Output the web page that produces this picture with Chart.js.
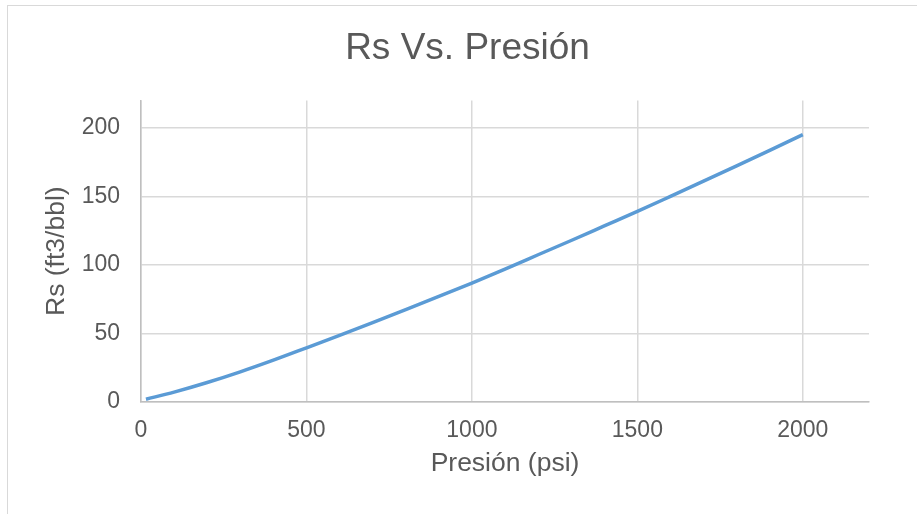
<!DOCTYPE html>
<html>
<head>
<meta charset="utf-8">
<title>Rs Vs. Presión</title>
<script src="https://cdn.jsdelivr.net/npm/chart.js@4"></script>
<style>
  html, body { margin: 0; padding: 0; background: #ffffff; overflow: hidden; width: 917px; height: 514px; }
  #frame {
    position: absolute; left: 7px; top: 5px; width: 1000px; height: 600px;
    border-left: 1px solid #d9d9d9; border-top: 1px solid #d9d9d9;
  }
  #wrap { position: absolute; left: 0; top: 0; width: 935px; height: 514px; }
</style>
</head>
<body>
<div id="frame"></div>
<div id="wrap"><canvas id="chart"></canvas></div>
<script>
// Solution gas-oil ratio vs. pressure
const pressure = [15, 100, 200, 300, 400, 500, 600, 700, 800, 900, 1000,
                  1100, 1200, 1300, 1400, 1500, 1600, 1700, 1800, 1900, 2000];
const rs = [2.0, 7.2, 14.2, 22.0, 30.5, 39.5, 48.6, 57.9, 67.4, 77.0, 86.8,
            97.0, 107.4, 117.8, 128.4, 139.0, 150.0, 161.1, 172.3, 183.6, 195.0];

// Axis tick values
const xTicks = [0, 500, 1000, 1500, 2000];
const yTicks = [0, 50, 100, 150, 200];

const chartTitle = 'Rs Vs. Presión';
const xTitle = 'Presión (psi)';
const yTitle = 'Rs (ft3/bbl)';

const points = pressure.map((p, i) => ({ x: p, y: rs[i] }));

const FONT = '"Liberation Sans", Arial, Helvetica, sans-serif';
const TEXT = '#595959';
const GRID = '#d9d9d9';
const AXIS = '#bfbfbf';

const fixedTicks = list => scale => { scale.ticks = list.map(v => ({ value: v })); };

new Chart(document.getElementById('chart'), {
  type: 'scatter',
  data: {
    datasets: [{
      data: points,
      showLine: true,
      borderColor: '#5b9bd5',
      borderWidth: 3.5,
      pointRadius: 0,
      pointHoverRadius: 0,
      cubicInterpolationMode: 'monotone',
      fill: false
    }]
  },
  options: {
    responsive: true,
    maintainAspectRatio: false,
    animation: false,
    events: [],
    layout: { padding: 0 },
    plugins: {
      legend: { display: false },
      tooltip: { enabled: false },
      title: {
        display: true,
        text: chartTitle,
        color: TEXT,
        font: { family: FONT, size: 37, weight: 'normal' },
        padding: { top: 27, bottom: 29 }
      }
    },
    scales: {
      x: {
        type: 'linear',
        min: 0,
        max: 2200,
        afterFit: s => { s.height = 112; },
        afterBuildTicks: fixedTicks(xTicks),
        ticks: {
          color: TEXT,
          padding: 15,
          maxRotation: 0,
          autoSkip: false,
          callback: v => String(v),
          font: { family: FONT, size: 23 }
        },
        grid: { color: GRID, lineWidth: 1.5, drawTicks: false },
        border: { color: AXIS, width: 1.5 },
        title: {
          display: true,
          text: xTitle,
          color: TEXT,
          font: { family: FONT, size: 26.5 },
          padding: { top: 0, bottom: 34 }
        }
      },
      y: {
        type: 'linear',
        min: 0,
        max: 220,
        afterFit: s => { s.width = 141; },
        afterBuildTicks: fixedTicks(yTicks),
        ticks: {
          color: TEXT,
          padding: 21,
          autoSkip: false,
          callback: v => String(v),
          font: { family: FONT, size: 23 }
        },
        grid: { color: GRID, lineWidth: 1.5, drawTicks: false },
        border: { color: AXIS, width: 1.5 },
        title: {
          display: true,
          text: yTitle,
          color: TEXT,
          font: { family: FONT, size: 26.5 },
          padding: { top: 41, bottom: 0 }
        }
      },
      // empty margin on the right of the plot
      yRight: {
        type: 'linear',
        position: 'right',
        display: true,
        afterFit: s => { s.width = 66; },
        ticks: { display: false },
        grid: { display: false, drawTicks: false },
        border: { display: false }
      }
    }
  }
});
</script>
</body>
</html>
